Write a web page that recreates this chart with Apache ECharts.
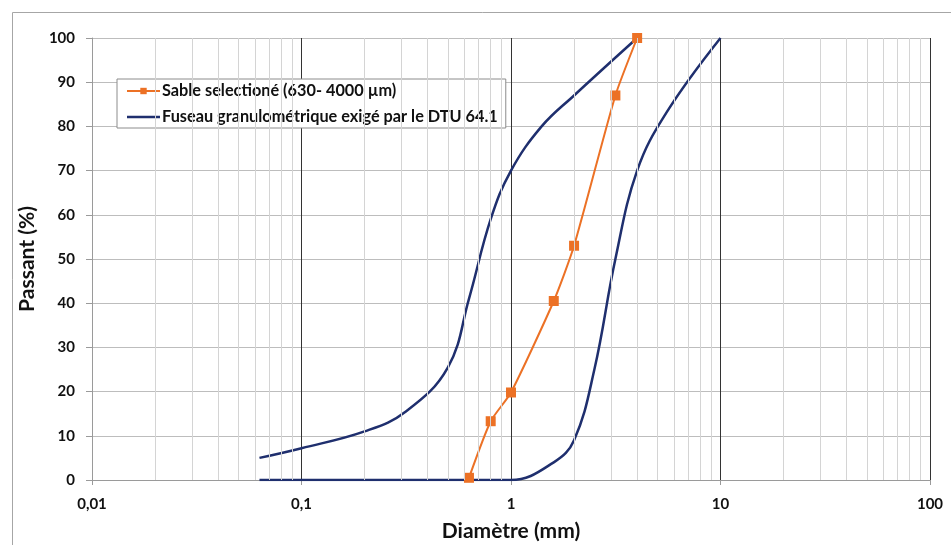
<!DOCTYPE html>
<html>
<head>
<meta charset="utf-8">
<script src="https://cdn.jsdelivr.net/npm/echarts@6/dist/echarts.min.js"></script>
<style>
html,body{margin:0;padding:0;background:#fff;}
#main{width:951px;height:545px;}
</style>
</head>
<body>
<div id="main"></div>
<script>
// ---- data ----
const sableName = 'Sable selectioné (630- 4000 µm)';
const fuseauName = 'Fuseau granulométrique exigé par le DTU 64.1';
const sableD = [0.63, 0.8, 1, 1.6, 2, 3.15, 4];
const sableP = [0.5, 13.3, 19.8, 40.5, 53, 87, 100];
const fuseauHautD = [0.063, 0.1, 0.2, 0.315, 0.5, 0.63, 0.8, 1, 1.4, 2, 4];
const fuseauHautP = [5, 7.2, 11, 15.5, 25.5, 41, 59, 70, 80, 87, 100];
const fuseauBasD = [0.063, 0.5, 1, 1.6, 2, 2.5, 3.15, 4, 5.5, 10];
const fuseauBasP = [0, 0, 0, 4, 9, 25, 50, 70, 83, 100];
const decades = [0.01, 0.1, 1, 10];
const xLabels = ['0,01', '0,1', '1', '10', '100'];

const zip = (a, b) => a.map((v, i) => [v, b[i]]);
const minorVals = [];
decades.forEach(d => { for (let k = 2; k <= 9; k++) minorVals.push(+(k * d).toPrecision(3)); });

const FONT = 'Lato';
const navy = '#1f2f6e';
const orange = '#ec7125';

const chart = echarts.init(document.getElementById('main'), null, {renderer: 'canvas'});
chart.setOption({
  animation: false,
  backgroundColor: '#fff',
  textStyle: {fontFamily: FONT},
  graphic: [{
    type: 'rect', left: 10, top: 10, z: -10,
    shape: {width: 960, height: 560},
    style: {fill: 'none', stroke: '#a6a6a6', lineWidth: 1}
  }],
  grid: {left: 92, right: 21, top: 38, bottom: 65, outerBoundsMode: 'none', containLabel: false},
  legend: {
    orient: 'vertical', left: 117, top: 79,
    backgroundColor: '#fff', borderColor: '#8c8c8c', borderWidth: 1,
    padding: [4, 8, 3, 9], itemGap: 10, itemWidth: 33, itemHeight: 8,
    textStyle: {fontFamily: FONT, fontSize: 16.3, fontWeight: 'bold', color: '#111', padding: [0, 0, 0, -3]},
    data: [{name: sableName}, {name: fuseauName, icon: 'path://M0,0H33V2.5H0Z'}]
  },
  xAxis: {
    type: 'log', logBase: 10, min: 0.01, max: 100,
    name: 'Diamètre (mm)', nameLocation: 'middle', nameGap: 41,
    nameTextStyle: {fontFamily: FONT, fontSize: 21, fontWeight: 'bold', color: '#111'},
    axisLine: {show: true, lineStyle: {color: '#9a9a9a', width: 1}},
    axisTick: {show: true, length: 5, lineStyle: {color: '#9a9a9a'}},
    axisLabel: {
      margin: 17, fontFamily: FONT, fontSize: 15, fontWeight: 'bold', color: '#111',
      formatter: v => {
        const i = Math.round(Math.log10(v)) + 2;
        return xLabels[i] !== undefined ? xLabels[i] : String(v);
      }
    },
    splitLine: {show: true, lineStyle: {color: '#333', width: 1}}
  },
  yAxis: {
    type: 'value', min: 0, max: 100, interval: 10,
    name: 'Passant (%)', nameLocation: 'middle', nameGap: 52, nameRotate: 90,
    nameTextStyle: {fontFamily: FONT, fontSize: 21, fontWeight: 'bold', color: '#111'},
    axisLine: {show: true, lineStyle: {color: '#9a9a9a', width: 1}},
    axisTick: {show: true, length: 6, lineStyle: {color: '#9a9a9a'}},
    axisLabel: {margin: 17, fontFamily: FONT, fontSize: 15, fontWeight: 'bold', color: '#111'},
    splitLine: {show: true, lineStyle: {color: '#bdbdbd', width: 1}}
  },
  series: [
    {
      type: 'line', name: '_minor', data: [], silent: true, z: 0,
      markLine: {
        silent: true, symbol: 'none', label: {show: false},
        lineStyle: {color: '#d4d4d4', width: 1, type: 'solid'},
        emphasis: {disabled: true},
        data: minorVals.map(v => ({xAxis: v}))
      }
    },
    {
      type: 'line', name: fuseauName, data: zip(fuseauHautD, fuseauHautP),
      smooth: 0.4, showSymbol: false, symbol: 'none', z: 3,
      lineStyle: {color: navy, width: 2.5}, itemStyle: {color: navy}
    },
    {
      type: 'line', name: fuseauName, data: zip(fuseauBasD, fuseauBasP),
      smooth: 0.4, showSymbol: false, symbol: 'none', z: 3,
      lineStyle: {color: navy, width: 2.5}, itemStyle: {color: navy}
    },
    {
      type: 'line', name: sableName, data: zip(sableD, sableP),
      smooth: 0.2, symbol: 'rect', symbolSize: 10, z: 4,
      lineStyle: {color: orange, width: 2}, itemStyle: {color: orange, borderWidth: 0}
    }
  ]
});
</script>
</body>
</html>
